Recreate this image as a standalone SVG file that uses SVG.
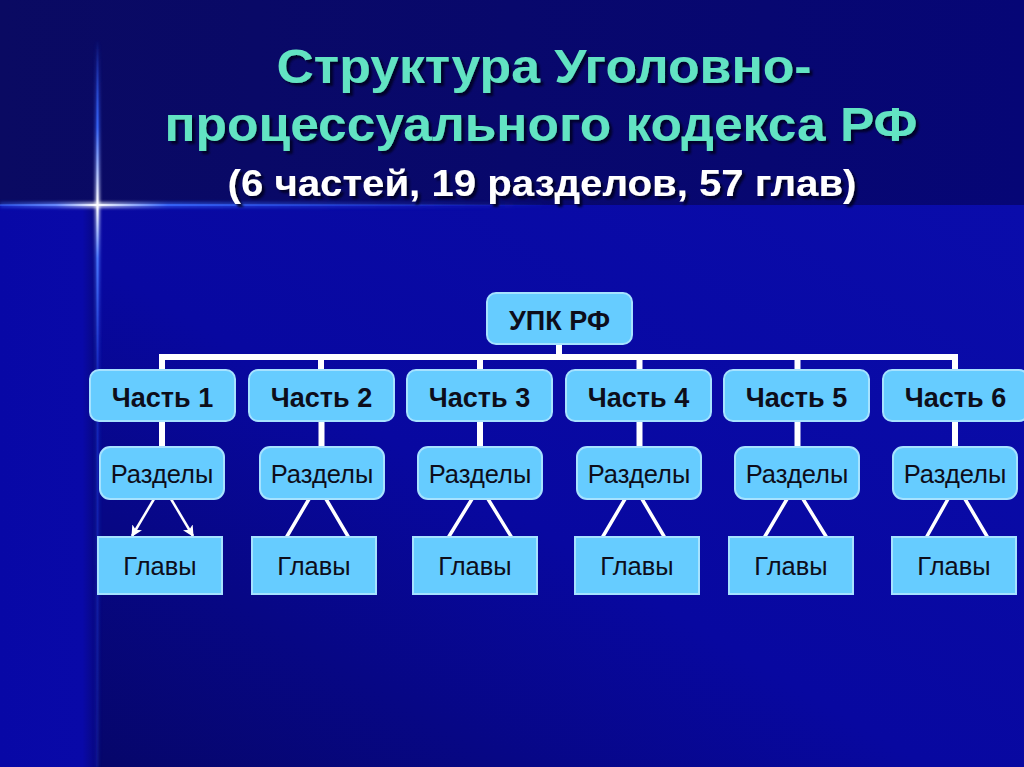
<svg xmlns="http://www.w3.org/2000/svg" width="1024" height="767" viewBox="0 0 1024 767">
<defs>
<linearGradient id="lowBg" x1="1" y1="0" x2="0" y2="1">
<stop offset="0" stop-color="#0a0cab"/>
<stop offset="0.55" stop-color="#0808a0"/>
<stop offset="1" stop-color="#06066a"/>
</linearGradient>
<linearGradient id="leftBg" x1="0" y1="0" x2="1" y2="0">
<stop offset="0" stop-color="#0808a6"/>
<stop offset="0.85" stop-color="#0909a8"/>
<stop offset="1" stop-color="#08087e"/>
</linearGradient>
<linearGradient id="topBg" x1="0" y1="0" x2="1" y2="0">
<stop offset="0" stop-color="#0a0a62"/>
<stop offset="1" stop-color="#060676"/>
</linearGradient>
<linearGradient id="starV" x1="0" y1="40" x2="0" y2="767" gradientUnits="userSpaceOnUse">
<stop offset="0" stop-color="#3060ff" stop-opacity="0"/>
<stop offset="0.12" stop-color="#3a6aff" stop-opacity="0.8"/>
<stop offset="0.227" stop-color="#ffffff"/>
<stop offset="0.3" stop-color="#4a78ff" stop-opacity="0.9"/>
<stop offset="0.45" stop-color="#2040e0" stop-opacity="0.4"/>
<stop offset="1" stop-color="#2040e0" stop-opacity="0.15"/>
</linearGradient>
<linearGradient id="starH" x1="0" y1="0" x2="560" y2="0" gradientUnits="userSpaceOnUse">
<stop offset="0" stop-color="#3a6aff" stop-opacity="0.5"/>
<stop offset="0.1" stop-color="#6a8cff" stop-opacity="0.9"/>
<stop offset="0.173" stop-color="#ffffff"/>
<stop offset="0.3" stop-color="#3a6aff" stop-opacity="0.8"/>
<stop offset="1" stop-color="#2040e0" stop-opacity="0"/>
</linearGradient>
<filter id="shadow" x="-5%" y="-20%" width="110%" height="150%">
<feDropShadow dx="3" dy="3" stdDeviation="1.2" flood-color="#000022" flood-opacity="0.9"/>
</filter>
<filter id="glow" x="-50%" y="-50%" width="200%" height="200%">
<feGaussianBlur stdDeviation="1.5"/>
</filter>
<marker id="arr" viewBox="0 0 10 10" refX="9" refY="5" markerWidth="4.5" markerHeight="4.5" orient="auto" markerUnits="strokeWidth">
<path d="M0,0 L10,5 L0,10 L2.5,5 z" fill="#ffffff"/>
</marker>
</defs>
<style>
.title{font-family:"Liberation Sans",Arial,sans-serif;font-weight:bold;fill:#62e3c3;text-anchor:middle}
.sub{font-family:"Liberation Sans",Arial,sans-serif;font-weight:bold;fill:#ffffff;text-anchor:middle}
.box{fill:#66ccff;stroke:#a6e2ff;stroke-width:2}
.lbl{font-family:"Liberation Sans",Arial,sans-serif;fill:#0d0d1a;text-anchor:middle}
.b{font-weight:bold;font-size:27px}
.r{font-size:25.5px}
.wire{stroke:#ffffff;fill:none}
.thick{stroke-width:6}
.diag{stroke-width:3.5}
.thin{stroke-width:2.5}
</style>
<!-- background -->
<rect x="0" y="0" width="1024" height="767" fill="#07076e"/>
<rect x="97" y="205" width="927" height="562" fill="url(#lowBg)"/>
<rect x="0" y="205" width="97" height="562" fill="url(#leftBg)"/>
<rect x="0" y="0" width="1024" height="205" fill="url(#topBg)"/>
<!-- star -->
<g id="star">
<rect x="95" y="40" width="5" height="727" fill="url(#starV)" filter="url(#glow)" opacity="0.7"/>
<rect x="96.5" y="40" width="2" height="727" fill="url(#starV)"/>
<rect x="0" y="202" width="560" height="6" fill="url(#starH)" filter="url(#glow)" opacity="0.7"/>
<rect x="0" y="204" width="560" height="2" fill="url(#starH)"/>
</g>
<!-- title -->
<g id="title" filter="url(#shadow)">
<text class="title" x="544" y="83" font-size="48" textLength="535" lengthAdjust="spacingAndGlyphs">Структура Уголовно-</text>
<text class="title" x="541" y="141" font-size="48" textLength="753" lengthAdjust="spacingAndGlyphs">процессуального кодекса РФ</text>
<text class="sub" x="542" y="196" font-size="37" textLength="629" lengthAdjust="spacingAndGlyphs">(6 частей, 19 разделов, 57 глав)</text>
</g>
<!-- connectors -->
<g id="connectors">
<path class="wire thick" d="M559,344 V357 M162,372 V357 H955 V372 M321,357 V372 M480,357 V372 M639.5,357 V372 M797.5,357 V372"/>
<path class="wire thick" d="M162,420 V449 M321.5,420 V449 M480,420 V449 M639.5,420 V449 M797.5,420 V449 M955,420 V449"/>
<line class="wire thin" x1="154" y1="499" x2="132" y2="536" marker-end="url(#arr)"/>
<line class="wire thin" x1="171" y1="499" x2="193" y2="536" marker-end="url(#arr)"/>
<path class="wire diag" d="M309,499 L286,538 M326,499 L349,538 M472,499 L448,538 M488,499 L512,538 M625,499 L602,538 M642,499 L665,538 M787,499 L764,538 M803,499 L827,538 M948,499 L926,538 M965,499 L988,538"/>
</g>
<!-- nodes -->
<g id="upk"><rect class="box" x="487" y="293" width="145" height="51" rx="9"/><text class="lbl b" x="559.5" y="330">УПК РФ</text></g>
<g id="part1"><rect class="box" x="90" y="370" width="145" height="51" rx="9"/><text class="lbl b" x="162.5" y="407">Часть 1</text></g>
<g id="part2"><rect class="box" x="249" y="370" width="145" height="51" rx="9"/><text class="lbl b" x="321.5" y="407">Часть 2</text></g>
<g id="part3"><rect class="box" x="407" y="370" width="145" height="51" rx="9"/><text class="lbl b" x="479.5" y="407">Часть 3</text></g>
<g id="part4"><rect class="box" x="566" y="370" width="145" height="51" rx="9"/><text class="lbl b" x="638.5" y="407">Часть 4</text></g>
<g id="part5"><rect class="box" x="724" y="370" width="145" height="51" rx="9"/><text class="lbl b" x="796.5" y="407">Часть 5</text></g>
<g id="part6"><rect class="box" x="883" y="370" width="145" height="51" rx="9"/><text class="lbl b" x="955.5" y="407">Часть 6</text></g>
<g id="sec1"><rect class="box" x="100" y="447" width="124" height="52" rx="10"/><text class="lbl r" x="162" y="483">Разделы</text></g>
<g id="sec2"><rect class="box" x="260" y="447" width="124" height="52" rx="10"/><text class="lbl r" x="322" y="483">Разделы</text></g>
<g id="sec3"><rect class="box" x="418" y="447" width="124" height="52" rx="10"/><text class="lbl r" x="480" y="483">Разделы</text></g>
<g id="sec4"><rect class="box" x="577" y="447" width="124" height="52" rx="10"/><text class="lbl r" x="639" y="483">Разделы</text></g>
<g id="sec5"><rect class="box" x="735" y="447" width="124" height="52" rx="10"/><text class="lbl r" x="797" y="483">Разделы</text></g>
<g id="sec6"><rect class="box" x="893" y="447" width="124" height="52" rx="10"/><text class="lbl r" x="955" y="483">Разделы</text></g>
<g id="ch1"><rect class="box" x="98" y="537" width="124" height="57"/><text class="lbl r" x="160" y="575">Главы</text></g>
<g id="ch2"><rect class="box" x="252" y="537" width="124" height="57"/><text class="lbl r" x="314" y="575">Главы</text></g>
<g id="ch3"><rect class="box" x="413" y="537" width="124" height="57"/><text class="lbl r" x="475" y="575">Главы</text></g>
<g id="ch4"><rect class="box" x="575" y="537" width="124" height="57"/><text class="lbl r" x="637" y="575">Главы</text></g>
<g id="ch5"><rect class="box" x="729" y="537" width="124" height="57"/><text class="lbl r" x="791" y="575">Главы</text></g>
<g id="ch6"><rect class="box" x="892" y="537" width="124" height="57"/><text class="lbl r" x="954" y="575">Главы</text></g>
</svg>
